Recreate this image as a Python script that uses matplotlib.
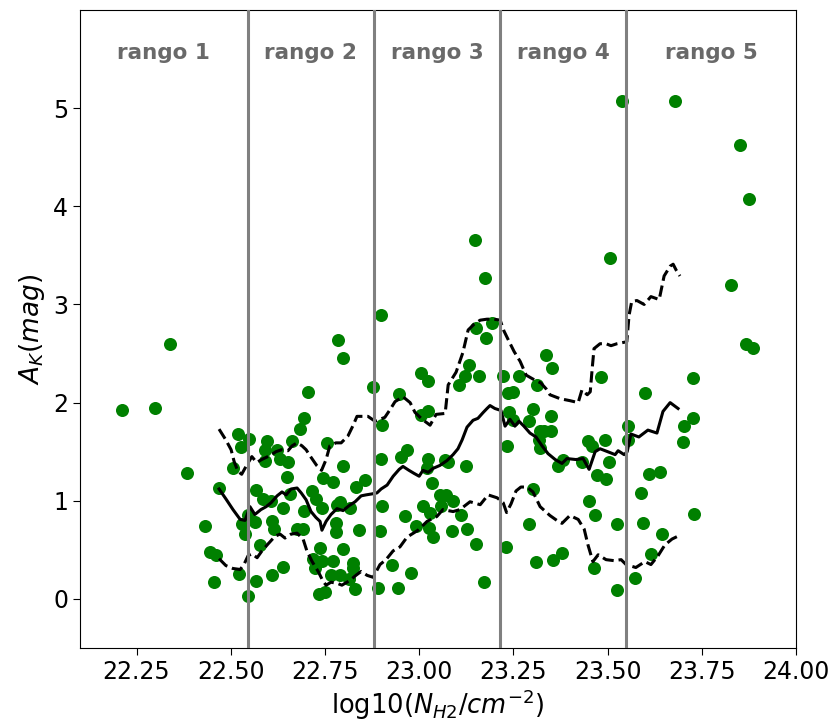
"""Scatter of A_K vs log10(N_H2) with running mean +/- std and the five ranges."""

import matplotlib

matplotlib.use("Agg")
import matplotlib.pyplot as plt

# log10(N_H2) and A_K, grouped by range
nh2 = [
    22.211, 22.298, 22.340, 22.384, 22.433, 22.445, 22.460, 22.456, 22.468, 22.507,
    22.520, 22.526, 22.523, 22.529, 22.539, 22.547, 22.547, 22.549,
    22.564, 22.567, 22.567, 22.578, 22.585, 22.591, 22.591, 22.597, 22.606, 22.609,
    22.610, 22.615, 22.624, 22.631, 22.638, 22.638, 22.648, 22.653, 22.657, 22.662,
    22.677, 22.684, 22.693, 22.694, 22.695, 22.705, 22.715, 22.719, 22.724, 22.726,
    22.733, 22.737, 22.741, 22.741, 22.746, 22.750, 22.755, 22.766, 22.771, 22.772,
    22.779, 22.779, 22.781, 22.784, 22.790, 22.790, 22.797, 22.799, 22.799, 22.815,
    22.817, 22.824, 22.825, 22.830, 22.832, 22.841, 22.856, 22.878,
    22.892, 22.896, 22.899, 22.899, 22.901, 22.902, 22.929, 22.947, 22.945, 22.952,
    22.968, 22.962, 22.978, 22.992, 23.005, 23.005, 23.011, 23.021, 23.024, 23.024,
    23.024, 23.029, 23.027, 23.033, 23.038, 23.055, 23.058, 23.069, 23.071, 23.077,
    23.086, 23.091, 23.107, 23.111, 23.122, 23.124, 23.128, 23.131, 23.147, 23.151,
    23.151, 23.159, 23.173, 23.176, 23.177, 23.194,
    23.222, 23.230, 23.232, 23.237, 23.239, 23.248, 23.250, 23.265, 23.292, 23.292,
    23.301, 23.301, 23.310, 23.312, 23.321, 23.330, 23.319, 23.321, 23.336, 23.350,
    23.349, 23.353, 23.356, 23.369, 23.380, 23.382, 23.431, 23.447, 23.451, 23.458,
    23.464, 23.467, 23.471, 23.483, 23.493, 23.496, 23.504, 23.507, 23.525, 23.525,
    23.538,
    23.553, 23.553, 23.573, 23.589, 23.595, 23.599, 23.610, 23.615, 23.639, 23.645,
    23.679, 23.699, 23.703, 23.726, 23.728, 23.730, 23.828, 23.852, 23.868, 23.876,
    23.886,
]
ak = [
    1.92, 1.95, 2.60, 1.28, 0.74, 0.48, 0.45, 0.17, 1.13, 1.33,
    1.68, 1.55, 0.25, 0.76, 0.66, 0.86, 0.03, 1.63,
    0.78, 1.11, 0.18, 0.55, 1.02, 1.52, 1.41, 1.61, 1.00, 0.79,
    0.24, 0.71, 1.52, 1.43, 0.93, 0.33, 1.24, 1.39, 1.07, 1.61,
    0.71, 1.73, 0.71, 1.84, 0.90, 2.11, 1.10, 0.41, 0.32, 1.02,
    0.05, 0.52, 0.93, 0.39, 1.23, 0.07, 1.59, 0.24, 1.19, 0.39,
    0.68, 0.77, 0.96, 2.64, 0.99, 0.24, 1.35, 2.45, 0.51, 0.20,
    0.93, 0.37, 0.31, 0.10, 1.14, 0.70, 1.21, 2.16,
    0.11, 0.69, 2.89, 1.43, 0.95, 1.77, 0.35, 2.09, 0.11, 1.45,
    1.52, 0.84, 0.26, 0.74, 2.30, 1.87, 0.95, 1.33, 1.43, 2.22,
    1.91, 0.88, 0.72, 1.18, 0.63, 1.06, 0.95, 1.42, 1.06, 1.40,
    0.69, 1.00, 2.18, 0.85, 2.27, 1.35, 0.71, 2.38, 3.66, 0.56,
    2.76, 2.27, 0.17, 3.27, 2.66, 2.81,
    2.27, 0.53, 1.56, 2.10, 1.90, 2.11, 1.82, 2.27, 1.81, 0.76,
    1.94, 1.12, 0.38, 2.18, 1.71, 1.71, 1.62, 1.54, 2.49, 1.86,
    1.71, 2.35, 0.40, 1.35, 0.47, 1.42, 1.39, 1.61, 1.00, 1.56,
    0.31, 0.86, 1.26, 2.26, 1.62, 1.22, 1.39, 3.47, 0.76, 0.09,
    5.07,
    1.76, 1.62, 0.21, 1.08, 0.77, 2.10, 1.27, 0.46, 1.29, 0.66,
    5.07, 1.60, 1.76, 2.25, 1.84, 0.87, 3.20, 4.62, 2.60, 4.07,
    2.56,
]

# running mean of A_K
mean_x = [
    22.469, 22.487, 22.506, 22.525, 22.538, 22.551, 22.564, 22.580, 22.594, 22.607,
    22.623, 22.636, 22.647, 22.660, 22.676, 22.687, 22.700, 22.713, 22.726, 22.737,
    22.742, 22.753, 22.766, 22.782, 22.798, 22.814, 22.830, 22.846, 22.859, 22.875,
    22.888, 22.899, 22.915, 22.931, 22.947, 22.957, 22.973, 22.986, 23.000, 23.010,
    23.024, 23.037, 23.055, 23.074, 23.090, 23.103, 23.114, 23.127, 23.143, 23.156,
    23.170, 23.180, 23.188, 23.201, 23.217, 23.228, 23.241, 23.254, 23.265, 23.278,
    23.294, 23.310, 23.326, 23.342, 23.361, 23.379, 23.392, 23.416, 23.435, 23.451,
    23.467, 23.480, 23.507, 23.520, 23.528, 23.544, 23.552, 23.562, 23.583, 23.607,
    23.631, 23.647, 23.666, 23.687,
]
mean_y = [
    1.12, 1.02, 0.91, 0.81, 0.80, 0.94, 0.86, 0.91, 0.94, 0.98,
    1.05, 1.09, 1.06, 1.12, 1.13, 1.08, 1.01, 0.89, 0.83, 0.79,
    0.70, 0.79, 0.86, 0.92, 0.90, 0.95, 0.99, 1.05, 1.06, 1.07,
    1.08, 1.12, 1.16, 1.25, 1.32, 1.35, 1.31, 1.28, 1.25, 1.31,
    1.29, 1.33, 1.36, 1.41, 1.47, 1.53, 1.62, 1.75, 1.82, 1.84,
    1.90, 1.94, 1.97, 1.94, 1.92, 1.76, 1.83, 1.76, 1.81, 1.76,
    1.69, 1.65, 1.56, 1.48, 1.42, 1.38, 1.43, 1.42, 1.43, 1.32,
    1.50, 1.53, 1.49, 1.47, 1.51, 1.47, 1.50, 1.68, 1.65, 1.72,
    1.69, 1.91, 2.00, 1.94,
]

# mean + std
upper_x = [
    22.469, 22.487, 22.501, 22.509, 22.519, 22.529, 22.542, 22.556, 22.569, 22.582,
    22.604, 22.620, 22.635, 22.652, 22.663, 22.676, 22.689, 22.700, 22.710, 22.728,
    22.741, 22.753, 22.763, 22.779, 22.793, 22.811, 22.825, 22.835, 22.848, 22.864,
    22.883, 22.896, 22.909, 22.923, 22.936, 22.957, 22.976, 22.989, 23.008, 23.029,
    23.045, 23.069, 23.077, 23.098, 23.116, 23.130, 23.146, 23.162, 23.180, 23.199,
    23.215, 23.225, 23.239, 23.252, 23.268, 23.284, 23.302, 23.323, 23.337, 23.347,
    23.374, 23.400, 23.422, 23.432, 23.446, 23.454, 23.459, 23.464, 23.480, 23.496,
    23.509, 23.525, 23.551, 23.557, 23.564, 23.578, 23.597, 23.615, 23.637, 23.650,
    23.666, 23.674, 23.682, 23.692,
]
upper_y = [
    1.73, 1.62, 1.52, 1.40, 1.30, 1.27, 1.36, 1.45, 1.39, 1.42,
    1.46, 1.50, 1.52, 1.51, 1.56, 1.59, 1.56, 1.52, 1.46, 1.36,
    1.31, 1.42, 1.56, 1.59, 1.59, 1.66, 1.77, 1.86, 1.86, 1.86,
    1.81, 1.83, 1.85, 1.93, 2.01, 2.06, 2.00, 1.90, 1.83, 1.77,
    1.88, 1.89, 2.18, 2.31, 2.51, 2.74, 2.80, 2.84, 2.85, 2.85,
    2.84, 2.73, 2.62, 2.52, 2.42, 2.28, 2.24, 2.20, 2.14, 2.08,
    2.04, 2.02, 2.00, 2.13, 2.08, 2.11, 2.34, 2.55, 2.60, 2.60,
    2.58, 2.60, 2.62, 2.89, 3.03, 3.04, 3.00, 3.08, 3.05, 3.29,
    3.39, 3.41, 3.35, 3.29,
]

# mean - std
lower_x = [
    22.469, 22.487, 22.506, 22.525, 22.535, 22.546, 22.556, 22.570, 22.583, 22.599,
    22.618, 22.631, 22.644, 22.660, 22.676, 22.692, 22.702, 22.716, 22.732, 22.745,
    22.753, 22.766, 22.782, 22.795, 22.817, 22.832, 22.846, 22.862, 22.878, 22.896,
    22.912, 22.931, 22.949, 22.968, 22.997, 23.021, 23.047, 23.063, 23.090, 23.108,
    23.135, 23.162, 23.183, 23.207, 23.223, 23.232, 23.244, 23.257, 23.270, 23.286,
    23.302, 23.321, 23.347, 23.369, 23.379, 23.400, 23.422, 23.438, 23.448, 23.461,
    23.475, 23.496, 23.517, 23.536, 23.549, 23.575, 23.599, 23.615, 23.634, 23.652,
    23.671, 23.687,
]
lower_y = [
    0.41, 0.34, 0.31, 0.30, 0.35, 0.44, 0.46, 0.42, 0.49, 0.56,
    0.64, 0.66, 0.62, 0.66, 0.67, 0.61, 0.49, 0.38, 0.28, 0.18,
    0.14, 0.17, 0.16, 0.14, 0.19, 0.24, 0.28, 0.24, 0.22, 0.35,
    0.40, 0.49, 0.53, 0.63, 0.70, 0.79, 0.84, 0.91, 0.89, 0.91,
    0.99, 0.96, 1.06, 1.03, 0.98, 0.88, 0.97, 1.10, 1.14, 1.14,
    1.09, 0.94, 0.85, 0.79, 0.77, 0.85, 0.81, 0.71, 0.55, 0.38,
    0.45, 0.40, 0.39, 0.40, 0.35, 0.32, 0.38, 0.35, 0.44, 0.55,
    0.61, 0.64,
]

# boundaries between the ranges
range_edges = [22.545, 22.88, 23.215, 23.55]
range_labels = ["rango 1", "rango 2", "rango 3", "rango 4", "rango 5"]

XLIM = (22.1, 24.0)
YLIM = (-0.5, 6.0)

fig = plt.figure(figsize=(8.31, 7.26), dpi=100)
ax = fig.add_axes([80 / 831, 78 / 726, 716 / 831, 638 / 726])

ax.scatter(nh2, ak, s=88, color="green", linewidths=0, zorder=2)
ax.plot(mean_x, mean_y, color="black", linewidth=2.2, zorder=3)
ax.plot(upper_x, upper_y, color="black", linewidth=2.2, linestyle="--", zorder=3)
ax.plot(lower_x, lower_y, color="black", linewidth=2.2, linestyle="--", zorder=3)

for edge in range_edges:
    ax.axvline(edge, color="gray", linewidth=2.2, zorder=4)

bounds = [XLIM[0]] + range_edges + [XLIM[1]]
for i, label in enumerate(range_labels):
    xc = 0.5 * (bounds[i] + bounds[i + 1])
    ax.text(xc, 5.56, label, ha="center", va="center", fontsize=15.5,
            fontweight="bold", color="dimgray")

ax.set_xlim(*XLIM)
ax.set_ylim(*YLIM)
ax.set_xticks([22.25, 22.5, 22.75, 23.0, 23.25, 23.5, 23.75, 24.0])
ax.set_yticks([0, 1, 2, 3, 4, 5])
ax.tick_params(labelsize=17, length=5)
ax.set_xlabel(r"log10($N_{H2}/cm^{-2}$)", fontsize=18.5, labelpad=3)
ax.set_ylabel(r"$A_K(mag)$", fontsize=19)

fig.savefig("out.png", dpi=100)
